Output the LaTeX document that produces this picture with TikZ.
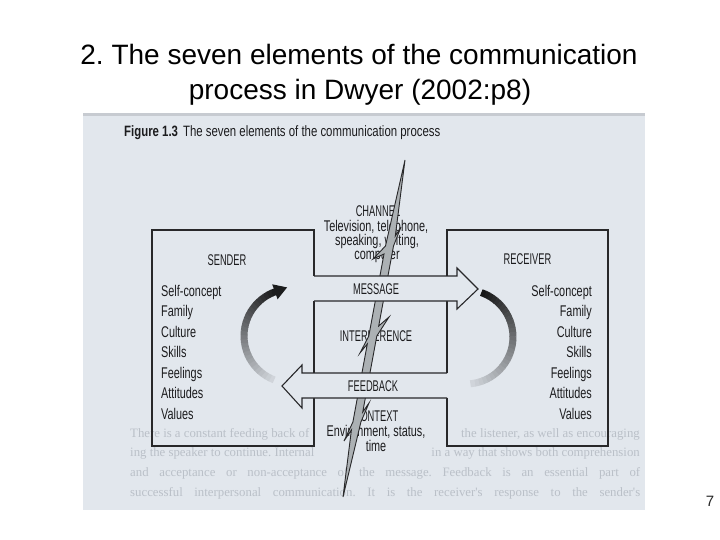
\documentclass[tikz,border=0pt]{standalone}
\usepackage{fontspec}
\setmainfont{Liberation Sans}
\newfontfamily\condfont[FakeStretch=0.70]{Liberation Sans}
\newfontfamily\capsfont[FakeStretch=0.60]{Liberation Sans}
\newfontfamily\headfont[FakeStretch=0.76]{Liberation Sans}
\newfontfamily\bleedfont{Liberation Serif}
\frenchspacing
\definecolor{bgc}{RGB}{226,231,237}
\definecolor{linec}{RGB}{40,40,42}
\definecolor{txtc}{RGB}{28,28,30}
\definecolor{bleedc}{RGB}{186,192,200}
\definecolor{boltc}{RGB}{172,177,180}
\tikzset{
  box/.style={draw=linec, line width=1.1pt, line join=miter},
  lab/.style={font={\condfont\fontsize{15.5}{16}\selectfont}, text=txtc, inner sep=0pt, anchor=base},
  caps/.style={font={\capsfont\fontsize{15.5}{16}\selectfont}, text=txtc, inner sep=0pt, anchor=base},
  bleed/.style={font={\bleedfont\fontsize{12.8}{14}\selectfont}, text=bleedc, inner sep=0pt, anchor=base west},
  titletext/.style={font={\fontsize{28}{34}\selectfont}, text=black, inner sep=0pt, anchor=base},
  bolt/.style={fill=boltc, draw=linec, line width=0.9pt, line join=miter}
}
\begin{document}
\begin{tikzpicture}[x=1pt,y=-1pt]
\useasboundingbox (0,0) rectangle (720,540);
\fill[white] (0,0) rectangle (720,540);
% title
\node[titletext] (title1) at (359,65) {2. The seven elements of the communication};
\node[titletext] (title2) at (360,100) {process in Dwyer (2002:p8)};
\node[font={\fontsize{15}{16}\selectfont}, text=black!85, inner sep=0pt, anchor=base] (pagenum) at (710,506) {7};
% scanned figure background
\fill[bgc] (83,113) rectangle (645,510);
\fill[bgc!80!black!60!bgc] (83,113) rectangle (645,116);
% faint show-through text
\node[bleed] (b1l) at (130,437) {There is a constant feeding back of};
\node[bleed, anchor=base east] (b1r) at (640,437) {the listener, as well as encouraging};
\node[bleed] (b2l) at (130,456) {ing the speaker to continue. Internal};
\node[bleed, anchor=base east] (b2r) at (640,456) {in a way that shows both comprehension};
\node[bleed] (b3) at (130,476) {\makebox[510pt][s]{and acceptance or non-acceptance of the message. Feedback is an essential part of}};
\node[bleed] (b4) at (130,496) {\makebox[510pt][s]{successful interpersonal communication. It is the receiver's response to the sender's}};
% heading
\node[font={\headfont\fontsize{15}{16}\selectfont}, text=txtc, inner sep=0pt, anchor=base west] (heading) at (124,137) {\textbf{Figure 1.3}\hspace{5pt}The seven elements of the communication process};
% sender and receiver outlines
\draw[box] (314,276) -- (314,230) -- (152,230) -- (152,446) -- (314,446) -- (314,398);
\draw[box] (314,301) -- (314,373);
\draw[box] (447,276) -- (447,230) -- (608,230) -- (608,446) -- (447,446) -- (447,398);
\draw[box] (447,301) -- (447,373);
% texts lying under the bolt
\node[caps] (channel) at (378,217) {CHANNEL};
\node[lab] (chan1) at (376,231) {Television, telephone,};
\node[lab] (chan2) at (377,245.5) {speaking, writing,};
\node[lab] (chan3) at (377,259.5) {computer};
\node[caps] (interference) at (376,341.5) {INTERFERENCE};
\node[caps] (context) at (376,421.5) {CONTEXT};
\node[lab] (ctx1) at (376,436) {Environment, status,};
\node[lab] (ctx2) at (376,451.5) {time};
% lightning bolt
\filldraw[bolt] (405,160) -- (395.3,236) -- (401,227) -- (393.5,246)
  -- (378.7,326) -- (389,317) -- (376.8,336)
  -- (362.75,412) -- (369,403) -- (360.9,422)
  -- (343,497)
  -- (351.4,430) -- (344,441) -- (352.9,422)
  -- (367.3,344) -- (360,353) -- (368.8,336)
  -- (384.0,254) -- (373,259) -- (385.5,246)
  -- cycle;
% message arrow (drawn over the bolt)
\fill[bgc] (314,276) -- (457,276) -- (457,268) -- (478,289) -- (457,309) -- (457,301) -- (314,301) -- cycle;
\draw[box] (314,276) -- (457,276) -- (457,268) -- (478,289) -- (457,309) -- (457,301) -- (314,301);
% feedback arrow
\fill[bgc] (447,373) -- (302,373) -- (302,365) -- (282,386) -- (302,408) -- (302,398) -- (447,398) -- cycle;
\draw[box] (447,373) -- (302,373) -- (302,365) -- (282,386) -- (302,408) -- (302,398) -- (447,398);
\node[caps] (message) at (376,294) {MESSAGE};
\node[caps] (feedback) at (373,391.5) {FEEDBACK};
% sender cycle arc (light at bottom, dark at top)
\foreach \i in {0,...,27} {
  \pgfmathsetmacro\a{111+\i*5}
  \pgfmathsetmacro\b{\a+5.6}
  \pgfmathsetmacro\p{8+80*\i/27}
  \draw[line width=7pt, black!\p!bgc] ([shift={(\a:47)}]291,336) arc[start angle=\a, end angle=\b, radius=47];
}
\fill[black!88!bgc] (272.2,284.3) -- (287.1,287.4) -- (277.6,299.3) -- cycle;
% receiver cycle arc (dark at top, light at bottom)
\foreach \i in {0,...,30} {
  \pgfmathsetmacro\a{-71+\i*5}
  \pgfmathsetmacro\b{\a+5.6}
  \pgfmathsetmacro\p{90-82*\i/30}
  \draw[line width=7pt, black!\p!bgc] ([shift={(\a:47)}]466,337) arc[start angle=\a, end angle=\b, radius=47];
}
% sender and receiver texts
\node[caps] (sender) at (227,265) {SENDER};
\node[caps] (receiver) at (527.5,264.5) {RECEIVER};
\foreach \t [count=\k from 0] in {Self-concept,Family,Culture,Skills,Feelings,Attitudes,Values} {
  \node[lab, anchor=base west] (s\k) at (161,296+20.5*\k) {\t};
  \node[lab, anchor=base east] (r\k) at (592,296+20.5*\k) {\t};
}
\end{tikzpicture}
\end{document}
